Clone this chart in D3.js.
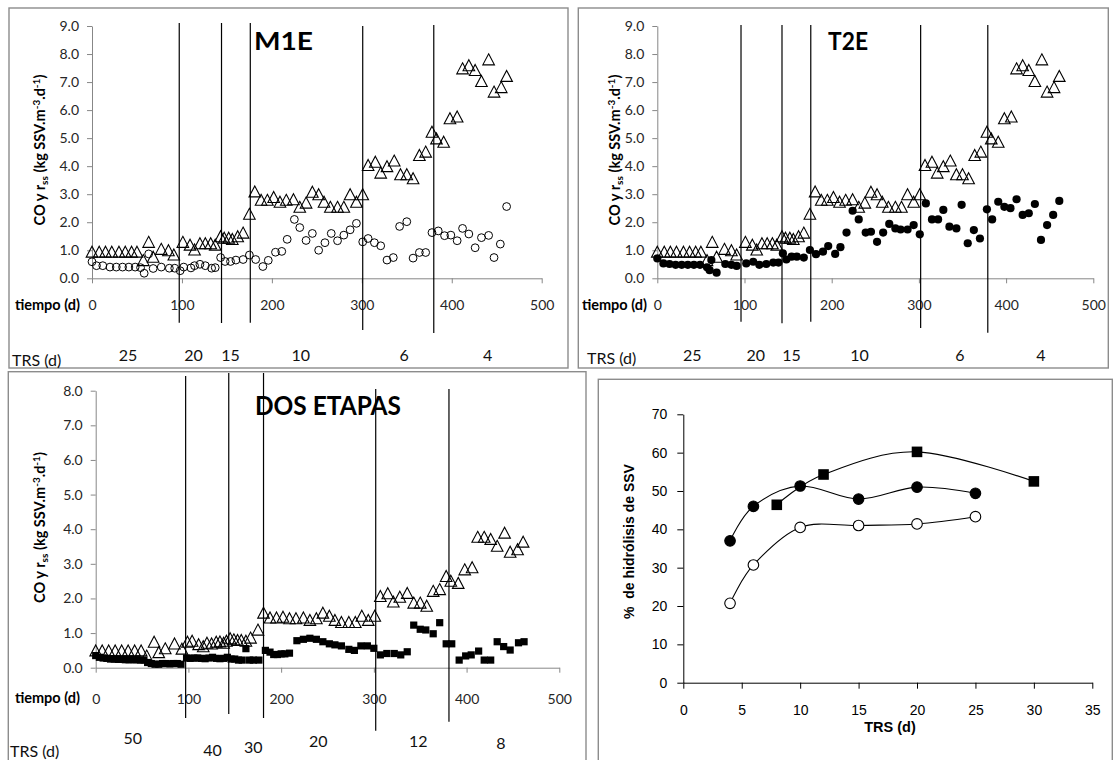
<!DOCTYPE html>
<html>
<head>
<meta charset="utf-8">
<script src="https://cdn.jsdelivr.net/npm/d3@7"></script>
<style>
  body { margin: 0; background: #fff; }
  svg { display: block; }
  .cal { font-family: Lato, "Open Sans", sans-serif; }
  .ari { font-family: "Liberation Sans", Arial, sans-serif; }
</style>
</head>
<body>
<svg id="chart" width="1113" height="760"></svg>
<script>
// ---------- time-course data (days, kg SSV.m-3.d-1) ----------
const timeTicks = [0, 100, 200, 300, 400, 500];

// organic load applied to the single-stage reactors (triangles, M1E and T2E)
const coDays = [0,8,15,22,30,37,44,50,57,63,68,77,85,91,101,109,114,120,126,132,137,143,147,152,156,162,168,175,181,188,195,202,209,216,224,231,238,245,252,258,265,273,280,287,294,301,307,315,321,328,336,343,350,357,364,371,378,383,391,398,406,412,419,426,433,441,447,455,461];
const coValues = [0.95,0.95,0.95,0.95,0.95,0.95,0.95,0.95,0.65,1.3,0.77,1.05,1.0,0.85,1.3,1.2,1.03,1.25,1.25,1.25,1.2,1.5,1.45,1.45,1.4,1.5,1.63,2.3,3.1,2.8,2.8,2.9,2.73,2.8,2.82,2.55,2.7,3.09,3.0,2.73,2.55,2.55,2.55,3.0,2.73,3.0,4.04,4.16,3.77,4.0,4.2,3.71,3.71,3.57,4.4,4.52,5.23,4.99,4.87,5.71,5.77,7.49,7.6,7.43,7.04,7.81,6.66,6.82,7.22];

// hydrolysis rate, reactor M1E (open circles)
const m1eDays = [0,5,12,20,27,34,41,48,54,58,63,68,77,86,92,98,102,110,114,120,126,133,137,143,148,154,160,168,175,182,190,196,204,211,217,225,231,238,245,252,259,266,273,280,287,294,301,307,314,321,328,335,342,350,357,364,371,378,385,392,399,406,412,419,426,433,441,447,454,461];
const m1eValues = [0.59,0.45,0.45,0.4,0.4,0.4,0.4,0.4,0.38,0.18,0.87,0.35,0.4,0.36,0.36,0.27,0.4,0.37,0.45,0.5,0.45,0.36,0.38,0.74,0.6,0.6,0.65,0.67,0.83,0.67,0.42,0.64,0.93,0.96,1.39,2.1,1.81,1.35,1.6,1.0,1.27,1.6,1.34,1.54,1.73,1.96,1.3,1.42,1.27,1.16,0.65,0.74,1.85,2.02,0.72,0.92,0.92,1.63,1.69,1.52,1.54,1.34,1.78,1.58,1.09,1.45,1.53,0.74,1.22,2.56];

// hydrolysis rate, reactor T2E (filled circles)
const t2eDays = [0,7,14,21,28,35,42,49,57,60,62,68,78,85,91,102,110,117,125,133,139,144,148,154,160,168,175,182,190,196,204,210,217,224,231,239,245,252,259,266,273,279,287,294,301,308,315,322,328,335,343,349,356,363,370,378,384,391,398,405,412,419,426,433,440,447,454,461];
const t2eValues = [0.71,0.53,0.51,0.48,0.48,0.48,0.48,0.48,0.39,0.29,0.65,0.2,0.51,0.48,0.44,0.53,0.59,0.48,0.51,0.56,0.56,0.89,0.67,0.77,0.77,0.74,1.01,0.86,0.95,1.15,0.87,1.11,1.63,2.41,2.1,1.63,1.66,1.3,1.63,1.94,1.78,1.74,1.74,1.9,1.57,2.67,2.1,2.1,2.44,1.84,1.78,2.62,1.25,1.72,1.42,2.46,2.1,2.73,2.55,2.5,2.82,2.26,2.32,2.65,1.37,1.9,2.26,2.76];

// two-stage system: organic load (triangles) and hydrolysis rate (filled squares)
const dosCoDays = [0,7,14,21,28,35,42,49,55,63,68,75,85,93,99,104,111,116,120,125,130,134,138,141,145,149,153,157,162,167,175,181,188,195,202,209,216,224,231,238,245,252,258,265,273,280,287,294,301,307,315,321,328,336,343,350,357,364,371,378,383,391,398,406,412,419,426,433,441,447,455,461];
const dosCoValues = [0.5,0.5,0.5,0.5,0.5,0.5,0.5,0.5,0.35,0.75,0.45,0.56,0.7,0.55,0.75,0.78,0.68,0.62,0.72,0.7,0.75,0.76,0.72,0.78,0.85,0.82,0.8,0.8,0.78,0.87,1.1,1.59,1.45,1.45,1.47,1.43,1.43,1.45,1.38,1.43,1.59,1.5,1.38,1.32,1.32,1.32,1.5,1.38,1.5,2.07,2.15,1.91,2.05,2.16,1.88,1.88,1.79,2.22,2.27,2.65,2.51,2.45,2.84,2.9,3.78,3.78,3.72,3.52,3.9,3.35,3.42,3.64];
const dosDays = [0,4,8,12,16,20,24,28,32,36,40,44,48,52,56,60,64,68,72,76,80,84,88,92,98,102,106,110,114,118,122,126,130,134,138,142,146,150,154,158,162,166,170,176,183,188,192,196,200,204,209,217,224,231,238,245,252,258,265,273,279,286,293,300,307,314,322,329,336,343,350,356,364,371,378,384,392,399,405,413,419,426,433,440,447,456,462];
const dosValues = [0.35,0.3,0.28,0.27,0.25,0.25,0.24,0.24,0.23,0.23,0.23,0.23,0.22,0.22,0.15,0.12,0.1,0.1,0.12,0.12,0.11,0.12,0.12,0.1,0.28,0.27,0.28,0.28,0.27,0.26,0.28,0.3,0.27,0.26,0.27,0.3,0.25,0.25,0.22,0.22,0.55,0.22,0.22,0.22,0.5,0.45,0.38,0.38,0.4,0.4,0.42,0.78,0.82,0.85,0.82,0.75,0.69,0.66,0.63,0.53,0.5,0.63,0.63,0.56,0.37,0.41,0.41,0.37,0.46,1.23,1.11,1.09,0.98,1.3,0.69,0.69,0.22,0.34,0.37,0.48,0.22,0.22,0.75,0.61,0.51,0.72,0.75];

// operating periods: day at which the sludge retention time was changed
const m1eBounds = [97, 144, 176, 301, 380];
const t2eBounds = [96, 143, 176, 302, 379];
const dosBounds = [97, 143.5, 181, 302, 381];

// TRS of each period and the day under which its label sits
const trsSingle = ["25", "20", "15", "10", "6", "4"];
const trsSingleDays = [40, 113, 154, 232, 347, 440];
const trsDos = ["50", "40", "30", "20", "12", "8"];
const trsDosDays = [40, 126, 170, 240, 348, 437];

// ---------- hydrolysis vs TRS ----------
const trsOpen = [4, 6, 10, 15, 20, 25];
const hydOpen = [20.7, 30.7, 40.5, 41.0, 41.4, 43.3];
const trsFilled = [4, 6, 10, 15, 20, 25];
const hydFilled = [37.0, 46.0, 51.3, 47.9, 51.0, 49.4];
const trsSquare = [8, 12, 20, 30];
const hydSquare = [46.4, 54.3, 60.2, 52.5];

// ---------- drawing ----------
const svg = d3.select("#chart");
const zip = (a, b) => a.map((v, i) => [v, b[i]]);

const markers = {
  triangle: (g, pts, x, y) => g.selectAll(null).data(pts).join("path")
      .attr("d", "M0,-5.5L5.8,5.5L-5.8,5.5Z")
      .attr("transform", d => `translate(${x(d[0])},${y(d[1])})`)
      .attr("fill", "none").attr("stroke", "#000").attr("stroke-width", 1.1),
  circle: (g, pts, x, y) => g.selectAll(null).data(pts).join("circle")
      .attr("cx", d => x(d[0])).attr("cy", d => y(d[1])).attr("r", 3.9)
      .attr("fill", "none").attr("stroke", "#000").attr("stroke-width", 1),
  dot: (g, pts, x, y) => g.selectAll(null).data(pts).join("circle")
      .attr("cx", d => x(d[0])).attr("cy", d => y(d[1])).attr("r", 4.1)
      .attr("fill", "#000"),
  square: (g, pts, x, y) => g.selectAll(null).data(pts).join("rect")
      .attr("x", d => x(d[0]) - 3.6).attr("y", d => y(d[1]) - 3.6)
      .attr("width", 7.2).attr("height", 7.2).attr("fill", "#000")
};

function frame(x0, y0, x1, y1) {
  svg.append("rect").attr("x", x0).attr("y", y0)
    .attr("width", x1 - x0).attr("height", y1 - y0)
    .attr("fill", "none").attr("stroke", "#8c8c8c").attr("stroke-width", 1.4);
}

function yLabel(g, cx, cy) {
  const t = g.append("text").attr("class", "cal")
    .attr("transform", `translate(${cx},${cy}) rotate(-90)`)
    .attr("text-anchor", "middle").attr("dy", "0.36em")
    .attr("font-size", 14.5).attr("font-weight", "bold").attr("fill", "#000");
  t.append("tspan").text("CO y r");
  t.append("tspan").attr("font-size", 10).attr("dy", 3).text("ss");
  t.append("tspan").attr("dy", -3).text(" (kg SSV.m");
  t.append("tspan").attr("font-size", 10).attr("dy", -5).text("-3");
  t.append("tspan").attr("dy", 5).text(".d");
  t.append("tspan").attr("font-size", 10).attr("dy", -5).text("-1");
  t.append("tspan").attr("dy", 5).text(")");
}

function timePanel(cfg) {
  frame(...cfg.frame);
  const g = svg.append("g");
  const x = d3.scaleLinear().domain([0, 500]).range([cfg.left, cfg.right]);
  const y = d3.scaleLinear().domain([0, cfg.yMax]).range([cfg.bottom, cfg.top]);

  const ya = g.append("g").attr("transform", `translate(${cfg.left},0)`)
    .call(d3.axisLeft(y).tickValues(d3.range(0, cfg.yMax + 1)).tickFormat(d3.format(".1f"))
      .tickSize(5).tickSizeOuter(0).tickPadding(8));
  const xa = g.append("g").attr("transform", `translate(0,${cfg.bottom})`)
    .call(d3.axisBottom(x).tickValues(timeTicks).tickSize(5).tickSizeOuter(0).tickPadding(cfg.xPad));
  [ya, xa].forEach(a => {
    a.select(".domain").attr("stroke", "#878787");
    a.selectAll(".tick line").attr("stroke", "#878787");
    a.selectAll("text").attr("class", "cal").attr("font-size", 14).attr("fill", "#262626");
  });

  cfg.series.forEach(s => markers[s.type](g, zip(s.days, s.values), x, y));

  // period boundaries
  g.selectAll(null).data(cfg.bounds).join("line")
    .attr("x1", d => x(d)).attr("x2", d => x(d))
    .attr("y1", (d, i) => cfg.lineTop[i]).attr("y2", (d, i) => cfg.lineBottom[i])
    .attr("stroke", "#000").attr("stroke-width", 1.2);

  g.append("text").attr("class", "cal").attr("x", cfg.title.x).attr("y", cfg.title.y)
    .attr("font-size", cfg.title.size).attr("font-weight", "bold")
    .attr("textLength", cfg.title.len).attr("lengthAdjust", "spacingAndGlyphs")
    .text(cfg.title.text);

  yLabel(g, cfg.yLab[0], cfg.yLab[1]);

  g.append("text").attr("class", "cal").attr("x", cfg.tiempo[0]).attr("y", cfg.tiempo[1])
    .attr("dy", "0.36em").attr("text-anchor", "end")
    .attr("font-size", 14.5).attr("font-weight", "bold").text("tiempo (d)");

  g.append("text").attr("class", "cal").attr("x", cfg.trsTitle[0]).attr("y", cfg.trsTitle[1])
    .attr("dy", "0.36em").attr("font-size", 16).attr("fill", "#111").text("TRS (d)");

  g.selectAll(null).data(cfg.trs).join("text").attr("class", "cal")
    .attr("x", (d, i) => x(cfg.trsDays[i])).attr("y", (d, i) => cfg.trsY[i])
    .attr("dy", "0.36em").attr("text-anchor", "middle")
    .attr("font-size", 16).attr("fill", "#111").text(d => d);
}

timePanel({
  frame: [9, 8, 568, 368],
  left: 92, right: 541.7, bottom: 278.3, top: 26, yMax: 9, xPad: 17,
  series: [
    { type: "triangle", days: coDays, values: coValues },
    { type: "circle", days: m1eDays, values: m1eValues }
  ],
  bounds: m1eBounds,
  lineTop: [23, 23, 23, 26, 25], lineBottom: [322.7, 323, 322.7, 330, 333],
  title: { text: "M1E", x: 254, y: 49.5, size: 24, len: 59 },
  yLab: [40, 150], tiempo: [80, 305], trsTitle: [12, 360],
  trs: trsSingle, trsDays: trsSingleDays, trsY: [355, 355, 355, 355, 355, 355]
});

timePanel({
  frame: [578.3, 8, 1108.3, 368],
  left: 657.3, right: 1093.3, bottom: 278.3, top: 26, yMax: 9, xPad: 17,
  series: [
    { type: "triangle", days: coDays, values: coValues },
    { type: "dot", days: t2eDays, values: t2eValues }
  ],
  bounds: t2eBounds,
  lineTop: [25, 25, 25, 25, 25], lineBottom: [321.7, 323.3, 321.7, 328, 332.7],
  title: { text: "T2E", x: 828, y: 49.5, size: 24, len: 40 },
  yLab: [614.5, 150], tiempo: [647, 305], trsTitle: [587, 358],
  trs: trsSingle, trsDays: trsSingleDays, trsY: [355, 355, 355, 355, 355, 355]
});

timePanel({
  frame: [8.3, 371.7, 586, 775],
  left: 95.7, right: 559.3, bottom: 667.7, top: 390.7, yMax: 8, xPad: 21,
  series: [
    { type: "triangle", days: dosCoDays, values: dosCoValues },
    { type: "square", days: dosDays, values: dosValues }
  ],
  bounds: dosBounds,
  lineTop: [376, 373, 373, 389, 389], lineBottom: [718, 714, 718, 730.7, 721.7],
  title: { text: "DOS ETAPAS", x: 255, y: 415, size: 26, len: 146 },
  yLab: [40, 527.5], tiempo: [80, 698], trsTitle: [10, 751],
  trs: trsDos, trsDays: trsDosDays, trsY: [738, 750, 747, 741.7, 741, 743]
});

// ---------- hydrolysis percentage vs TRS ----------
frame(598.3, 379.3, 1112.3, 775);
const g4 = svg.append("g");
const x4 = d3.scaleLinear().domain([0, 35]).range([683.3, 1092.3]);
const y4 = d3.scaleLinear().domain([0, 70]).range([682.7, 414.3]);

const ya4 = g4.append("g").attr("transform", `translate(${x4(0)},0)`)
  .call(d3.axisLeft(y4).tickValues(d3.range(0, 71, 10)).tickSize(6).tickSizeOuter(0).tickPadding(10));
const xa4 = g4.append("g").attr("transform", `translate(0,${y4(0)})`)
  .call(d3.axisBottom(x4).tickValues(d3.range(0, 36, 5)).tickSize(6).tickSizeOuter(0).tickPadding(16));
[ya4, xa4].forEach(a => {
  a.select(".domain").attr("stroke", "#000");
  a.selectAll(".tick line").attr("stroke", "#000");
  a.selectAll("text").attr("class", "ari").attr("font-size", 14).attr("fill", "#000");
});

const curve = d3.line().x(d => x4(d[0])).y(d => y4(d[1])).curve(d3.curveCatmullRom.alpha(0));
const hydSeries = [
  { pts: zip(trsSquare, hydSquare), type: "sq" },
  { pts: zip(trsFilled, hydFilled), type: "dot" },
  { pts: zip(trsOpen, hydOpen), type: "open" }
];
hydSeries.forEach(s => {
  g4.append("path").attr("d", curve(s.pts)).attr("fill", "none")
    .attr("stroke", "#000").attr("stroke-width", 1.1);
});
hydSeries.forEach(s => {
  if (s.type === "sq") {
    g4.selectAll(null).data(s.pts).join("rect")
      .attr("x", d => x4(d[0]) - 5.3).attr("y", d => y4(d[1]) - 5.3)
      .attr("width", 10.6).attr("height", 10.6).attr("fill", "#000");
  } else {
    g4.selectAll(null).data(s.pts).join("circle")
      .attr("cx", d => x4(d[0])).attr("cy", d => y4(d[1])).attr("r", 5.3)
      .attr("fill", s.type === "dot" ? "#000" : "#fff")
      .attr("stroke", "#000").attr("stroke-width", 1.1);
  }
});

g4.append("text").attr("class", "ari")
  .attr("transform", `translate(628.5,541.5) rotate(-90)`)
  .attr("text-anchor", "middle").attr("dy", "0.36em")
  .attr("font-size", 14).attr("font-weight", "bold")
  .text("%\u00a0 de hidrólisis de SSV");
g4.append("text").attr("class", "ari").attr("x", 890).attr("y", 727)
  .attr("text-anchor", "middle").attr("dy", "0.36em")
  .attr("font-size", 14.5).attr("font-weight", "bold").text("TRS (d)");
</script>
</body>
</html>
